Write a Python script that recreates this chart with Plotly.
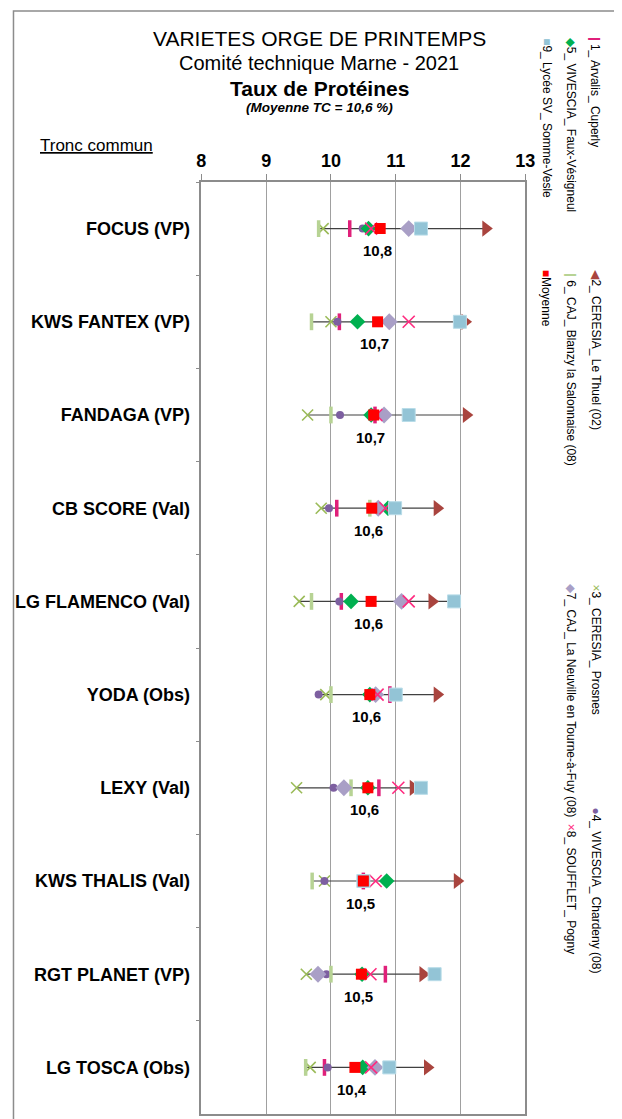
import plotly.graph_objects as go

categories = ["FOCUS (VP)", "KWS FANTEX (VP)", "FANDAGA (VP)", "CB SCORE (Val)",
              "LG FLAMENCO (Val)", "YODA (Obs)", "LEXY (Val)", "KWS THALIS (Val)",
              "RGT PLANET (VP)", "LG TOSCA (Obs)"]

s1_arvalis = [10.29, 10.13, 10.68, 10.09, 10.16, 10.91, 10.74, 10.50, 10.84, 9.90]
s2_ceresia_thuel = [12.39, 12.07, 12.09, 11.64, 11.56, 11.64, 11.27, 11.95, 11.42, 11.49]
s3_ceresia_prosnes = [9.88, 10.00, 9.64, 9.85, 9.51, 9.92, 9.47, 9.90, 9.62, 9.68]
s4_vivescia_chardeny = [10.49, 10.10, 10.14, 9.97, 10.13, 9.81, 10.04, 9.90, 9.93, 9.95]
s5_vivescia_faux = [10.58, 10.41, 10.62, 10.88, 10.31, 10.60, 10.57, 10.86, 10.48, 10.49]
s6_caj_blanzy = [9.81, 9.70, 10.00, 10.60, 9.70, 10.00, 10.31, 9.71, 10.00, 9.61]
s7_caj_neuville = [11.20, 10.90, 10.82, 10.73, 11.09, 10.69, 10.20, None, 9.80, 10.68]
s8_soufflet = [10.62, 11.20, 10.70, 10.84, 11.20, 10.72, 11.04, 10.69, 10.61, 10.62]
s9_lycee = [11.39, 11.99, 11.20, 10.99, 11.90, 11.00, 11.39, 10.50, 11.60, 10.90]
moyenne = [10.76, 10.72, 10.66, 10.63, 10.62, 10.60, 10.57, 10.50, 10.47, 10.37]

series_names = ["1_ Arvalis_ Cuperly", "2_ CERESIA_ Le Thuel (02)", "3_ CERESIA_ Prosnes",
                "4_ VIVESCIA_ Chardeny (08)", "5_ VIVESCIA_ Faux-Vésigneul",
                "6_ CAJ_ Blanzy la Salonnaise (08)", "7_ CAJ_ La Neuville en Tourne-à-Fuy (08)",
                "8_ SOUFFLET_ Pogny", "9_ Lycée SV_ Somme-Vesle", "Moyenne"]
x_ticks = [8, 9, 10, 11, 12, 13]

FONT = "Liberation Sans, Arial, sans-serif"
W, H = 622, 1119
OFF = 8  # page body margin

all_series = [s1_arvalis, s2_ceresia_thuel, s3_ceresia_prosnes, s4_vivescia_chardeny,
              s5_vivescia_faux, s6_caj_blanzy, s7_caj_neuville, s8_soufflet, s9_lycee, moyenne]

styles = [
    dict(symbol="line-ns", size=12, color="#E0207A", line=dict(color="#E0207A", width=3.5)),
    dict(symbol="triangle-right", size=14, color="#A9443E", line=dict(width=0)),
    dict(symbol="x-thin", size=11, color="#9BBB59", line=dict(color="#9BBB59", width=1.6)),
    dict(symbol="circle", size=8, color="#7D5FA0", line=dict(width=0)),
    dict(symbol="diamond", size=12, color="#00B050", line=dict(width=0)),
    dict(symbol="line-ns", size=12, color="#B7D394", line=dict(color="#B7D394", width=3.5)),
    dict(symbol="diamond", size=13, color="#A99FC6", line=dict(width=0)),
    dict(symbol="x-thin", size=12, color="#FF2A7F", line=dict(color="#FF2A7F", width=1.6)),
    dict(symbol="square", size=13, color="#93C4D6", line=dict(color="#B8DCE8", width=1)),
    dict(symbol="square", size=11, color="#FF0000", line=dict(width=0)),
]

fig = go.Figure()

# connecting min-max line per row
lx, ly = [], []
for i, c in enumerate(categories):
    vals = [s[i] for s in all_series if s[i] is not None]
    lx += [min(vals), max(vals), None]
    ly += [c, c, None]
fig.add_trace(go.Scatter(x=lx, y=ly, mode="lines", line=dict(color="#404040", width=1.2),
                         showlegend=False, hoverinfo="skip"))

for name, vals, st in zip(series_names, all_series, styles):
    fig.add_trace(go.Scatter(x=vals, y=categories, mode="markers", name=name,
                             marker=st, showlegend=False))


def pap(px, py):
    return (px - OFF) / W, 1 - (py - OFF) / H


x0, _ = pap(201, 0)
x1, _ = pap(533, 0)
_, y0 = pap(0, 1114)
_, y1 = pap(0, 182)

fig.update_layout(
    width=W, height=H, margin=dict(l=0, r=0, t=0, b=0),
    paper_bgcolor="white", plot_bgcolor="white",
    font=dict(family=FONT, color="black"),
    xaxis=dict(domain=[x0, x1], range=[8, 13], side="top", tickvals=x_ticks,
               ticktext=[str(t) for t in x_ticks],
               tickfont=dict(size=18, family=FONT, color="black", weight="bold"),
               ticks="outside", ticklen=6, tickcolor="#8c8c8c", showgrid=True,
               gridcolor="#a0a0a0", gridwidth=1, showline=True, linecolor="#8c8c8c",
               linewidth=1.5, mirror=True, zeroline=False),
    yaxis=dict(domain=[y0, y1], type="category", categoryorder="array",
               categoryarray=categories, range=[len(categories) - 0.5, -0.5],
               autorange=False, tickson="boundaries",
               ticks="outside", ticklen=4, tickcolor="#8c8c8c",
               tickfont=dict(size=18, family=FONT, color="black", weight="bold"),
               showgrid=False, showline=True, linecolor="#8c8c8c", linewidth=1.5,
               mirror=True, zeroline=False, ticklabelstandoff=6),
)

annotations = []
# mean labels
for c, m in zip(categories, moyenne):
    annotations.append(dict(x=m, y=c, xref="x", yref="y", text=f"{m:.1f}".replace(".", ","),
                            showarrow=False, yshift=-22, xshift=-3,
                            font=dict(size=15, family=FONT, color="black", weight="bold")))

# titles
for text, py, size in [
    ("VARIETES ORGE DE PRINTEMPS", 38, 21),
    ("Comité technique Marne - 2021", 63, 20),
    ("<b>Taux de Protéines</b>", 88, 21),
    ("<b><i>(Moyenne TC = 10,6 %)</i></b>", 108, 13.5),
]:
    x, y = pap(322, py)
    annotations.append(dict(x=x, y=y, xref="paper", yref="paper", text=text, showarrow=False,
                            xanchor="center", yanchor="middle",
                            font=dict(size=size, family=FONT, color="black")))

x, y = pap(34, 146)
annotations.append(dict(x=x, y=y, xref="paper", yref="paper", text="<u>Tronc commun</u>",
                        showarrow=False, xanchor="left", yanchor="middle",
                        font=dict(size=17, family=FONT, color="black")))

# legend (rotated)
legend_items = [
    (0, "#E0207A", "❙", 605, 32),
    (1, "#A9443E", "◀", 605, 268),
    (2, "#9BBB59", "×", 605, 582),
    (3, "#7D5FA0", "●", 605, 805),
    (4, "#00B050", "◆", 580, 36),
    (5, "#B7D394", "❙", 580, 268),
    (6, "#A99FC6", "◆", 580, 582),
    (7, "#FF2A7F", "×", 580, 822),
    (8, "#93C4D6", "■", 555, 36),
    (9, "#FF0000", "■", 555, 268),
]
for idx, col, sym, px, py in legend_items:
    x, y = pap(px, py)
    annotations.append(dict(
        x=x, y=y, xref="paper", yref="paper", showarrow=False, textangle=90,
        xanchor="center", yanchor="top",
        text=f"<span style='color:{col}'>{sym}</span>{series_names[idx]}",
        font=dict(size=12, family=FONT, color="black")))

fig.update_layout(annotations=annotations)

# outer border
bx, by = pap(8, 11)
fig.add_shape(type="rect", xref="paper", yref="paper", x0=bx + 0.5 / W, x1=1.05, y0=-0.05,
              y1=by, line=dict(color="#8c8c8c", width=1.5), fillcolor="rgba(0,0,0,0)")

fig.write_html("out.html")
